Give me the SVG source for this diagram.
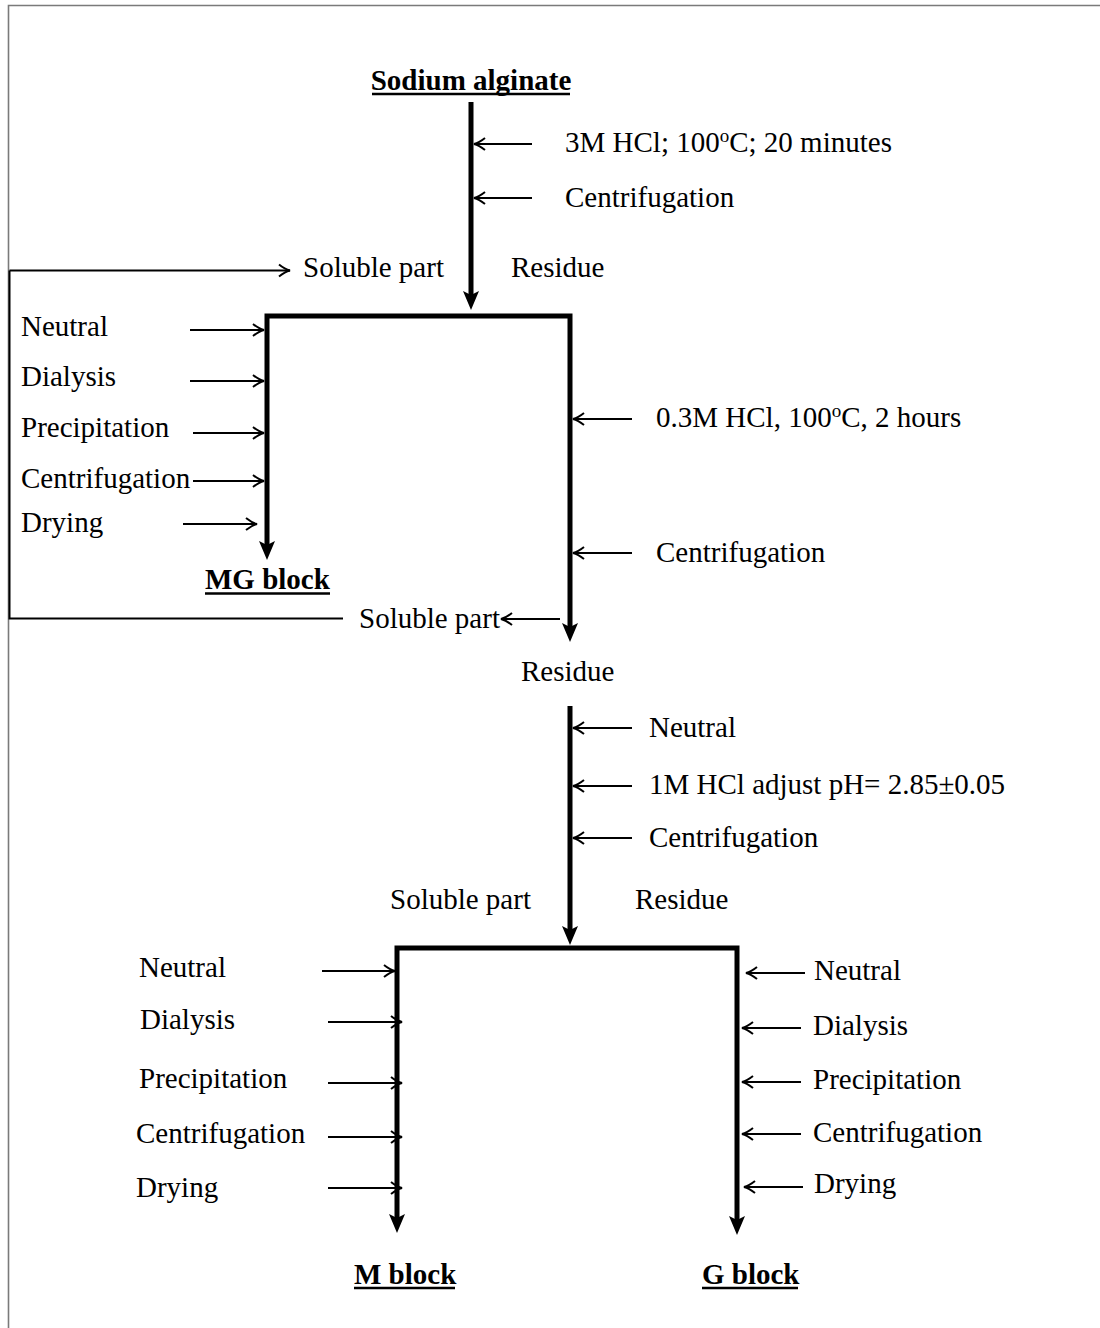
<svg xmlns="http://www.w3.org/2000/svg" width="1100" height="1328" viewBox="0 0 1100 1328">
<style>
text{font-family:"Liberation Serif","Times New Roman",serif;font-size:29px;fill:#000}
.b{font-weight:bold}
.thin{stroke:#000;stroke-width:2;fill:none;marker-end:url(#ah)}
.fb{stroke:#000;stroke-width:2;fill:none}
.thick{stroke:#000;stroke-width:5;fill:none;stroke-linejoin:miter;stroke-linecap:butt}
.ul{stroke:#000;stroke-width:2.5}
.sup{font-size:19px}
</style>
<defs>
<marker id="ah" markerUnits="userSpaceOnUse" viewBox="-14 -8 16 16" markerWidth="16" markerHeight="16" refX="0" refY="0" orient="auto">
<path d="M-11,-6 Q-5,-1.2 0,0 Q-5,1.2 -11,6" fill="none" stroke="#000" stroke-width="2"/>
</marker>
<marker id="tk" markerUnits="userSpaceOnUse" viewBox="-21 -10 24 20" markerWidth="24" markerHeight="20" refX="-12" refY="0" orient="auto-start-reverse">
<path d="M0,0 L-19,-8 L-15,0 L-19,8 Z" fill="#000"/>
</marker>
</defs>
<rect x="0" y="0" width="1100" height="1328" fill="#fff"/>
<path d="M8.5,1328 V5.5 H1100" stroke="#7a7a7a" stroke-width="1.6" fill="none"/>

<g id="connectors">
<path class="thick" d="M471,102 V298" marker-end="url(#tk)"/>
<path class="thick" d="M267,548 V316 H570 V630" marker-start="url(#tk)" marker-end="url(#tk)"/>
<path class="thick" d="M570,706 V933" marker-end="url(#tk)"/>
<path class="thick" d="M397,1221 V948 H737 V1223" marker-start="url(#tk)" marker-end="url(#tk)"/>

<path class="thin" d="M532,144 H474"/>
<path class="thin" d="M532,198 H474"/>
<path class="fb" d="M343,618.5 H9.5 V270.5"/>
<path class="thin" d="M9.5,270.5 H290"/>

<path class="thin" d="M190,330 H264"/>
<path class="thin" d="M190,381 H264"/>
<path class="thin" d="M193,433 H264"/>
<path class="thin" d="M193,481 H264"/>
<path class="thin" d="M183,524 H257"/>

<path class="thin" d="M632,419 H573"/>
<path class="thin" d="M632,553 H573"/>
<path class="thin" d="M560,619 H501"/>

<path class="thin" d="M632,728 H573"/>
<path class="thin" d="M632,786 H573"/>
<path class="thin" d="M632,838 H573"/>

<path class="thin" d="M322,971 H395"/>
<path class="thin" d="M328,1022 H402"/>
<path class="thin" d="M328,1083 H402"/>
<path class="thin" d="M328,1137 H402"/>
<path class="thin" d="M328,1188 H402"/>

<path class="thin" d="M805,973 H746"/>
<path class="thin" d="M801,1028 H742"/>
<path class="thin" d="M801,1082 H742"/>
<path class="thin" d="M801,1134 H742"/>
<path class="thin" d="M803,1187 H744"/>
</g>

<g id="sodium-alginate"><text class="b" x="471" y="90" text-anchor="middle">Sodium alginate</text><line class="ul" x1="372" y1="94" x2="570" y2="94"/></g>
<g id="step1-hcl"><text x="565" y="152">3M HCl; 100<tspan class="sup" dy="-10">o</tspan><tspan dy="10">C; 20 minutes</tspan></text></g>
<g id="step1-centrifugation"><text x="565" y="207">Centrifugation</text></g>
<g id="soluble-part-1"><text x="303" y="277">Soluble part</text></g>
<g id="residue-1"><text x="511" y="277">Residue</text></g>

<g id="mg-neutral"><text x="21" y="336">Neutral</text></g>
<g id="mg-dialysis"><text x="21" y="386">Dialysis</text></g>
<g id="mg-precipitation"><text x="21" y="437">Precipitation</text></g>
<g id="mg-centrifugation"><text x="21" y="488">Centrifugation</text></g>
<g id="mg-drying"><text x="21" y="532">Drying</text></g>
<g id="mg-block"><text class="b" x="205" y="589">MG block</text><line class="ul" x1="205" y1="593.5" x2="330" y2="593.5"/></g>

<g id="step2-hcl"><text x="656" y="427">0.3M HCl, 100<tspan class="sup" dy="-10">o</tspan><tspan dy="10">C, 2 hours</tspan></text></g>
<g id="step2-centrifugation"><text x="656" y="562">Centrifugation</text></g>
<g id="soluble-part-2"><text x="359" y="628">Soluble part</text></g>
<g id="residue-2"><text x="521" y="681">Residue</text></g>

<g id="step3-neutral"><text x="649" y="737">Neutral</text></g>
<g id="step3-ph"><text x="649" y="794">1M HCl adjust pH= 2.85±0.05</text></g>
<g id="step3-centrifugation"><text x="649" y="847">Centrifugation</text></g>
<g id="soluble-part-3"><text x="390" y="909">Soluble part</text></g>
<g id="residue-3"><text x="635" y="909">Residue</text></g>

<g id="m-neutral"><text x="139" y="977">Neutral</text></g>
<g id="m-dialysis"><text x="140" y="1029">Dialysis</text></g>
<g id="m-precipitation"><text x="139" y="1088">Precipitation</text></g>
<g id="m-centrifugation"><text x="136" y="1143">Centrifugation</text></g>
<g id="m-drying"><text x="136" y="1197">Drying</text></g>

<g id="g-neutral"><text x="814" y="980">Neutral</text></g>
<g id="g-dialysis"><text x="813" y="1035">Dialysis</text></g>
<g id="g-precipitation"><text x="813" y="1089">Precipitation</text></g>
<g id="g-centrifugation"><text x="813" y="1142">Centrifugation</text></g>
<g id="g-drying"><text x="814" y="1193">Drying</text></g>

<g id="m-block"><text class="b" x="354" y="1284">M block</text><line class="ul" x1="354" y1="1288" x2="455" y2="1288"/></g>
<g id="g-block"><text class="b" x="702" y="1284">G block</text><line class="ul" x1="702" y1="1288" x2="798" y2="1288"/></g>
</svg>
